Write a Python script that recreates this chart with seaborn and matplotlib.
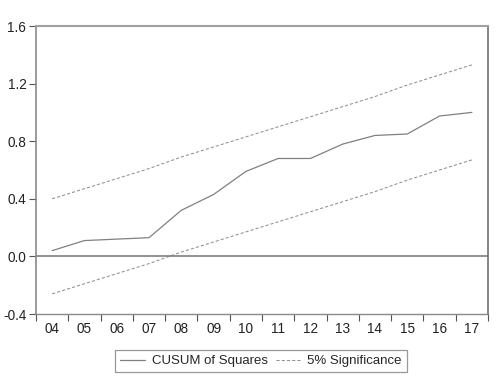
import matplotlib
matplotlib.use("Agg")
import matplotlib.pyplot as plt
import seaborn as sns
import pandas as pd
import numpy as np

years = ["04", "05", "06", "07", "08", "09", "10", "11", "12", "13", "14", "15", "16", "17"]
cusum_sq = [0.04, 0.11, 0.12, 0.13, 0.32, 0.43, 0.59, 0.68, 0.68, 0.78, 0.84, 0.85, 0.975, 1.0]
upper = [0.40, 0.47, 0.54, 0.61, 0.69, 0.76, 0.83, 0.90, 0.97, 1.04, 1.11, 1.19, 1.26, 1.33]
lower = [-0.26, -0.19, -0.12, -0.05, 0.03, 0.10, 0.17, 0.24, 0.31, 0.38, 0.45, 0.53, 0.60, 0.67]
yticks = [-0.4, 0.0, 0.4, 0.8, 1.2, 1.6]

sns.set_style("white")
plt.rcParams['font.family'] = ['Liberation Sans', 'DejaVu Sans']

pos = list(range(len(years)))
df = pd.DataFrame({"pos": pos, "cusum": cusum_sq, "upper": upper, "lower": lower})

fig = plt.figure(figsize=(5.01, 3.81), dpi=100)
ax = fig.add_axes([36/501, 1-314/381, (488-36)/501, (314-26)/381])

gray = "#808080"
sns.lineplot(data=df, x="pos", y="cusum", ax=ax, color=gray, lw=0.9, label="CUSUM of Squares")
sns.lineplot(data=df, x="pos", y="upper", ax=ax, color="#909090", lw=0.75, linestyle=(0, (3, 2)), label="5% Significance")
sns.lineplot(data=df, x="pos", y="lower", ax=ax, color="#909090", lw=0.75, linestyle=(0, (3, 2)), legend=False)
ax.axhline(0.0, color="#808080", lw=1.2)

ax.set_xlim(-0.5, len(years) - 0.5)
ax.set_ylim(-0.4, 1.6)
ax.set_xlabel("")
ax.set_ylabel("")

fs = 9.8
ax.set_xticks([p - 0.5 for p in pos] + [len(years) - 0.5])
ax.set_xticklabels([])
ax.set_xticks(pos, minor=True)
ax.set_xticklabels(years, minor=True, fontsize=fs, color="#222222")
ax.tick_params(axis="x", which="major", direction="out", length=5, width=0.8, color="#555555", bottom=True)
ax.tick_params(axis="x", which="minor", length=0, pad=6, bottom=True)

ax.set_yticks(yticks)
ax.set_yticklabels([f"{v:.1f}" for v in yticks], fontsize=fs, color="#222222")
ax.tick_params(axis="y", direction="out", length=5, width=0.8, color="#555555", left=True, pad=2)

for side, c, w in [("top", "#a0a0a0", 1.5), ("left", "#8a8a8a", 1.2), ("right", "#707070", 1.2), ("bottom", "#8a8a8a", 1.0)]:
    ax.spines[side].set_visible(True)
    ax.spines[side].set_color(c)
    ax.spines[side].set_linewidth(w)

ax.get_legend().remove()
handles, labels = ax.get_legend_handles_labels()
leg = fig.legend(handles, labels, loc="center", bbox_to_anchor=(261/501, 1-361/381), ncol=2,
                 fontsize=9.5, frameon=True, fancybox=False, handlelength=1.9, columnspacing=0.6,
                 handletextpad=0.5, borderpad=0.4, borderaxespad=0)
leg.get_frame().set_edgecolor("#808080")
leg.get_frame().set_linewidth(0.9)

fig.savefig("out.png", dpi=100)
